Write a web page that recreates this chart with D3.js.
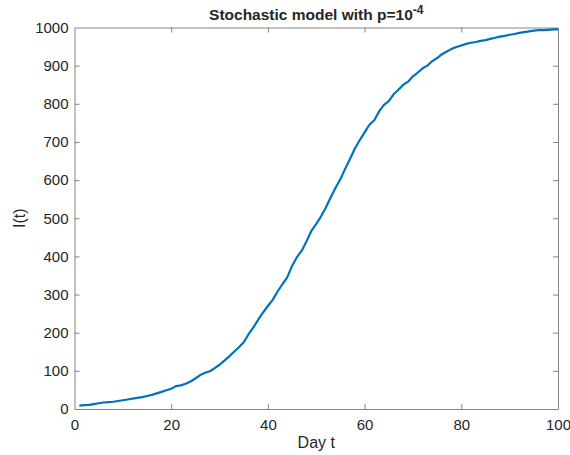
<!DOCTYPE html>
<html>
<head>
<meta charset="utf-8">
<script src="https://cdn.jsdelivr.net/npm/d3@7"></script>
<style>
  body { margin: 0; background: #fff; }
  svg text { font-family: "Liberation Sans", Arial, Helvetica, sans-serif; fill: #262626; }
</style>
</head>
<body>
<svg id="chart" width="570" height="455"></svg>
<script>
// Infected count I(t) for each day
const days = d3.range(1, 101);
const infected = [
  9, 10, 11, 13, 15, 17, 18, 19, 21, 23,
  25, 27, 29, 31, 34, 37, 41, 45, 49, 53,
  60, 62, 66, 72, 80, 89, 95, 99, 107, 116,
  127, 138, 150, 162, 175, 196, 214, 234, 253, 270,
  286, 308, 327, 345, 375, 398, 415, 440, 467, 485,
  505, 528, 555, 580, 603, 630, 656, 683, 705, 725,
  745, 757, 780, 797, 807, 825, 837, 850, 858, 872,
  882, 893, 900, 912, 920, 930, 937, 944, 949, 953,
  957, 960, 962, 965, 967, 970, 973, 976, 978, 981,
  983, 986, 988, 990, 992, 993, 993, 994, 995, 995
];
const xTicks = [0, 20, 40, 60, 80, 100];
const yTicks = [0, 100, 200, 300, 400, 500, 600, 700, 800, 900, 1000];

const margin = { top: 27.5, right: 12, bottom: 46, left: 74.5 };
const width = 570, height = 455;
const svg = d3.select('#chart');

const x = d3.scaleLinear().domain([0, 100]).range([margin.left, width - margin.right]);
const y = d3.scaleLinear().domain([0, 1000]).range([height - margin.bottom, margin.top]);

const axisColor = '#848484';
const tickLen = 5;
const fmt = d3.format('d');

// bottom axis: ticks point inward
const gx = svg.append('g')
  .attr('transform', `translate(0,${y(0)})`)
  .call(d3.axisBottom(x).tickValues(xTicks).tickFormat(fmt).tickSizeInner(-tickLen).tickSizeOuter(0).tickPadding(10));
const gy = svg.append('g')
  .attr('transform', `translate(${x(0)},0)`)
  .call(d3.axisLeft(y).tickValues(yTicks).tickFormat(fmt).tickSizeInner(-tickLen).tickSizeOuter(0).tickPadding(6));
// top and right mirrors, no labels
const gt = svg.append('g')
  .attr('transform', `translate(0,${y(1000)})`)
  .call(d3.axisTop(x).tickValues(xTicks).tickSizeInner(-tickLen).tickSizeOuter(0).tickFormat(''));
const gr = svg.append('g')
  .attr('transform', `translate(${x(100)},0)`)
  .call(d3.axisRight(y).tickValues(yTicks).tickSizeInner(-tickLen).tickSizeOuter(0).tickFormat(''));

[gx, gy, gt, gr].forEach(g => {
  g.select('.domain').attr('stroke', axisColor).attr('stroke-width', 1);
  g.selectAll('.tick line').attr('stroke', axisColor);
  g.selectAll('.tick text')
    .attr('font-size', 15)
    .attr('font-family', '"Liberation Sans", Arial, sans-serif')
    .attr('fill', '#262626');
});
// drop the inward ticks sitting on the corners
gx.selectAll('.tick').filter(d => d === 0 || d === 100).select('line').remove();
gt.selectAll('.tick').filter(d => d === 0 || d === 100).select('line').remove();
gy.selectAll('.tick').filter(d => d === 0 || d === 1000).select('line').remove();
gr.selectAll('.tick').filter(d => d === 0 || d === 1000).select('line').remove();

// data line
const line = d3.line().x((d, i) => x(days[i])).y(d => y(d));
svg.append('path')
  .datum(infected)
  .attr('fill', 'none')
  .attr('stroke', '#0072BD')
  .attr('stroke-width', 2.2)
  .attr('stroke-linejoin', 'round')
  .attr('d', line);

// title with superscript exponent
const title = svg.append('text')
  .attr('x', (x(0) + x(100)) / 2)
  .attr('y', 20)
  .attr('text-anchor', 'middle')
  .attr('font-size', 15.5)
  .attr('font-weight', 'bold');
title.append('tspan').text('Stochastic model with p=10');
title.append('tspan').attr('dy', -6).attr('font-size', 12).text('-4');

// axis labels
svg.append('text')
  .attr('x', (x(0) + x(100)) / 2)
  .attr('y', 448)
  .attr('text-anchor', 'middle')
  .attr('font-size', 16)
  .text('Day t');

svg.append('text')
  .attr('transform', `translate(25,${(y(0) + y(1000)) / 2}) rotate(-90)`)
  .attr('text-anchor', 'middle')
  .attr('font-size', 16)
  .text('I(t)');
</script>
</body>
</html>
